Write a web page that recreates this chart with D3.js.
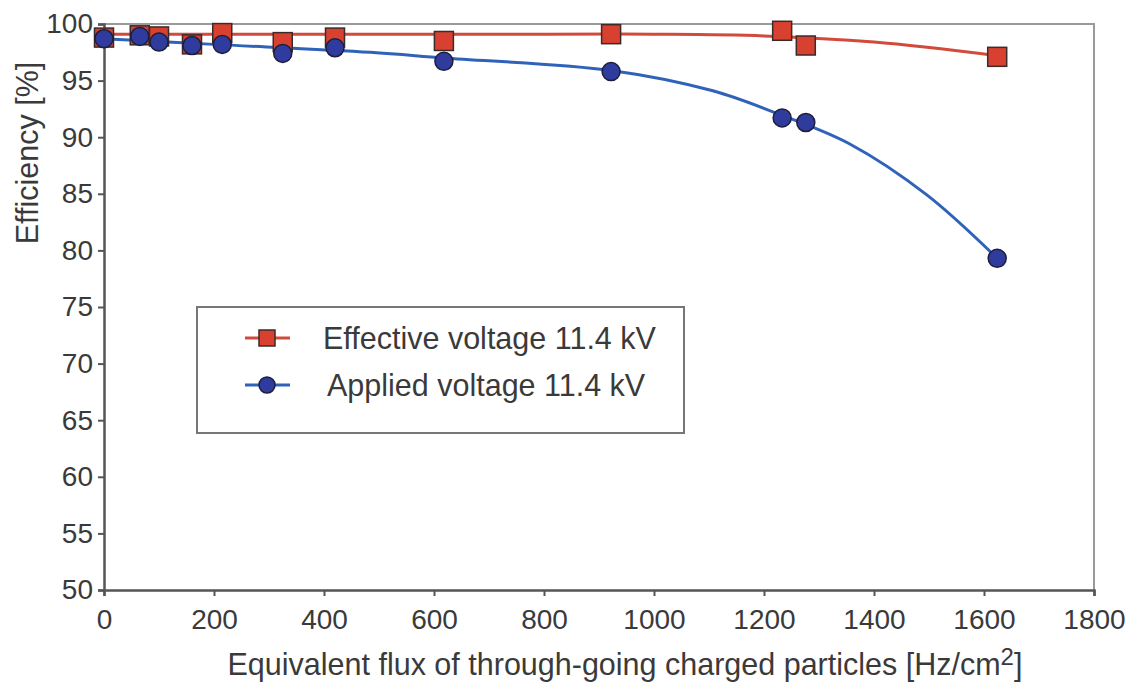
<!DOCTYPE html>
<html>
<head>
<meta charset="utf-8">
<script src="https://cdn.jsdelivr.net/npm/d3@7"></script>
<style>
  body { margin: 0; background: #fff; }
  text { font-family: "Liberation Sans", Arial, sans-serif; fill: #3a3a3a; }
</style>
</head>
<body>
<svg id="chart"></svg>
<script>
// measured points
const fluxValues = [0, 65, 100, 160, 215, 325, 420, 618, 922, 1233, 1276, 1624]
const effectiveEff = [98.8, 99.0, 98.9, 98.2, 99.2, 98.4, 98.8, 98.5, 99.1, 99.4, 98.1, 97.1]
const appliedEff = [98.7, 98.9, 98.4, 98.1, 98.2, 97.4, 97.9, 96.7, 95.8, 91.7, 91.3, 79.3]

// fitted trend lines
const effectiveFitX = [0, 400, 800, 1000, 1200, 1400, 1624]
const effectiveFitY = [99.1, 99.1, 99.1, 99.1, 98.95, 98.4, 97.2]
const appliedFitX = [0, 200, 484, 618, 922, 1107, 1229, 1356, 1496, 1624]
const appliedFitY = [98.7, 98.2, 97.5, 97.0, 95.9, 94.1, 92.0, 89.4, 84.9, 79.3]

const xTicks = [0, 200, 400, 600, 800, 1000, 1200, 1400, 1600, 1800]
const yTicks = [50, 55, 60, 65, 70, 75, 80, 85, 90, 95, 100]
const seriesNames = ["Effective voltage 11.4 kV", "Applied voltage 11.4 kV"]

const width = 1134, height = 686
const margin = { top: 24, right: 40, bottom: 96, left: 104 }
const red = "#d8402f", redLine = "#d24a3c", blue = "#2f3c9e", blueLine = "#2f63b9"

const svg = d3.select("#chart").attr("width", width).attr("height", height)

const x = d3.scaleLinear().domain([0, 1800]).range([margin.left, width - margin.right])
const y = d3.scaleLinear().domain([50, 100]).range([height - margin.bottom, margin.top])

// plot frame (top/right lighter)
svg.append("path")
    .attr("d", `M${x(0)},${y(100)}H${x(1800)}V${y(50)}`)
    .attr("fill", "none").attr("stroke", "#9a9a9a").attr("stroke-width", 2)

//Axes
const xAxis = svg.append("g")
    .attr("transform", `translate(0,${y(50)})`)
    .call(d3.axisBottom(x).tickValues(xTicks).tickFormat(d3.format("d")).tickSize(6).tickPadding(8))
const yAxis = svg.append("g")
    .attr("transform", `translate(${x(0)},0)`)
    .call(d3.axisLeft(y).tickValues(yTicks).tickSize(6).tickPadding(5))
for (const ax of [xAxis, yAxis]) {
    ax.select(".domain").attr("stroke", "#555").attr("stroke-width", 2.5)
    ax.selectAll(".tick line").attr("stroke", "#555").attr("stroke-width", 2)
    ax.selectAll(".tick text").attr("font-size", 28).attr("fill", "#3a3a3a")
        .style("font-family", "'Liberation Sans', Arial, sans-serif")
}
xAxis.selectAll(".tick text").attr("dy", "0.9em")

// axis titles
svg.append("text")
    .attr("transform", "translate(38,153) rotate(-90)")
    .attr("text-anchor", "middle").attr("font-size", 30.5)
    .text("Efficiency [%]")
const xt = svg.append("text")
    .attr("x", 625).attr("y", 675)
    .attr("text-anchor", "middle").attr("font-size", 30.5)
xt.append("tspan").text("Equivalent flux of through-going charged particles [Hz/cm")
xt.append("tspan").attr("dy", -10).attr("font-size", 24).text("2")
xt.append("tspan").attr("dy", 10).text("]")

//Fit lines
const line = d3.line().x(d => x(d[0])).y(d => y(d[1])).curve(d3.curveCatmullRom.alpha(0.5))
svg.append("path")
    .datum(effectiveFitX.map((v, i) => [v, effectiveFitY[i]]))
    .attr("d", line).attr("fill", "none").attr("stroke", redLine).attr("stroke-width", 3)
svg.append("path")
    .datum(appliedFitX.map((v, i) => [v, appliedFitY[i]]))
    .attr("d", line).attr("fill", "none").attr("stroke", blueLine).attr("stroke-width", 3)

//Markers
const sq = 19
svg.append("g").selectAll("rect")
    .data(fluxValues.map((v, i) => [v, effectiveEff[i]]))
    .join("rect")
    .attr("x", d => x(d[0]) - sq / 2).attr("y", d => y(d[1]) - sq / 2)
    .attr("width", sq).attr("height", sq)
    .attr("fill", red).attr("stroke", "#3b2b2b").attr("stroke-width", 1.5)
svg.append("g").selectAll("circle")
    .data(fluxValues.map((v, i) => [v, appliedEff[i]]))
    .join("circle")
    .attr("cx", d => x(d[0])).attr("cy", d => y(d[1])).attr("r", 9)
    .attr("fill", blue).attr("stroke", "#1e1e3a").attr("stroke-width", 1.5)

//Legend
const lg = svg.append("g")
lg.append("rect").attr("x", 197).attr("y", 307).attr("width", 487).attr("height", 126)
    .attr("fill", "#fff").attr("stroke", "#777").attr("stroke-width", 2)
const rows = [338, 385]
rows.forEach((ry, i) => {
    lg.append("line").attr("x1", 245).attr("x2", 290).attr("y1", ry).attr("y2", ry)
        .attr("stroke", i === 0 ? redLine : blueLine).attr("stroke-width", 3)
    if (i === 0) {
        lg.append("rect").attr("x", 267 - 8).attr("y", ry - 8).attr("width", 16).attr("height", 16)
            .attr("fill", red).attr("stroke", "#3b2b2b").attr("stroke-width", 1.5)
    } else {
        lg.append("circle").attr("cx", 267).attr("cy", ry).attr("r", 8)
            .attr("fill", blue).attr("stroke", "#1e1e3a").attr("stroke-width", 1.5)
    }
    lg.append("text").attr("x", i === 0 ? 323 : 327).attr("y", ry).attr("dy", "0.35em")
        .attr("font-size", 30.5).text(seriesNames[i])
})
</script>
</body>
</html>
